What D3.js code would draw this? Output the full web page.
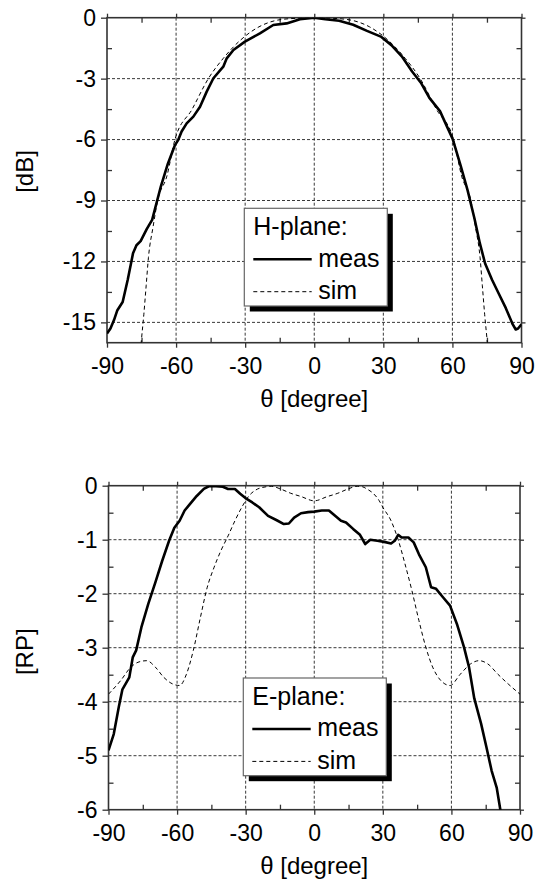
<!DOCTYPE html>
<html>
<head>
<meta charset="utf-8">
<script src="https://cdn.jsdelivr.net/npm/d3@7"></script>
<style>
  body { margin: 0; background: #fff; }
  svg text { font-family: "Liberation Sans", Arial, sans-serif; fill: #000; }
</style>
</head>
<body>
<div id="chart"></div>
<script>
// angle ticks shared by both panels
const xTicks = [-90, -60, -30, 0, 30, 60, 90];
const xMinor = [-75, -45, -15, 15, 45, 75];

// H-plane (top panel), dB
const hTicks = [0, -3, -6, -9, -12, -15];
const hMinor = [-1.5, -4.5, -7.5, -10.5, -13.5];
const hMeasTheta = [-90, -88.5, -87, -85.5, -83.2, -81, -78.7, -77.2, -75.4, -72.7, -70.4, -68.9, -66.6, -63.6, -60.6, -59, -57.6, -55.4, -52.5, -49.6, -46.7, -43.8, -39.5, -38, -35.1, -30.1, -23.6, -17.8, -12, -6.2, 0, 4.8, 10.8, 16.9, 22.9, 28.9, 33.5, 38, 42.5, 46.3, 50, 54.6, 57.6, 60.2, 63.6, 66.6, 69.6, 71.9, 74.2, 77.2, 80.2, 83.2, 86.2, 87.5, 88.5, 90];
const hMeas = [-15.55, -15.3, -14.9, -14.4, -14.0, -12.9, -11.6, -11.2, -11.0, -10.4, -9.95, -9.3, -8.3, -7.2, -6.3, -6.0, -5.6, -5.2, -4.87, -4.38, -3.64, -2.98, -2.41, -2.0, -1.59, -1.18, -0.77, -0.36, -0.28, -0.08, 0, -0.08, -0.15, -0.35, -0.65, -0.93, -1.35, -1.9, -2.65, -3.2, -3.95, -4.6, -5.35, -6.0, -7.3, -8.5, -9.9, -11.1, -12.1, -12.9, -13.6, -14.3, -15.1, -15.35, -15.3, -15.1];
const hSimTheta = [-76.5, -75, -74, -73, -72, -70, -68, -64, -60.5, -53, -46, -39.5, -32, -24, -16, -8, 0, 8, 16, 24, 32, 39.5, 46, 53, 60.5, 64, 68, 70, 72, 73, 74, 75, 76.5];
const hSim = [-17.8, -15.8, -14.6, -13.2, -11.8, -10.3, -9.0, -7.8, -6.0, -4.5, -3.0, -2.0, -1.1, -0.45, -0.12, -0.03, 0, -0.03, -0.12, -0.45, -1.1, -2.0, -3.0, -4.5, -6.0, -7.8, -9.0, -10.3, -11.8, -13.2, -14.6, -15.8, -17.8];

// E-plane (bottom panel), relative power
const eTicks = [0, -1, -2, -3, -4, -5, -6];
const eMinor = [-0.5, -1.5, -2.5, -3.5, -4.5, -5.5];
const eMeasTheta = [-90, -87.7, -85.5, -83.9, -80.9, -79.4, -77.9, -75.6, -72.6, -69.5, -66.5, -63.5, -61.2, -58.9, -56.7, -54.4, -51.4, -48.3, -46.1, -43, -40, -37.7, -34.7, -32.4, -30.1, -27.1, -24.1, -20.2, -16.4, -13.3, -11.1, -8.8, -5.8, -2.7, 0, 3.3, 6.4, 8.6, 11.7, 13.9, 17, 20, 22.3, 24.5, 27.6, 30.6, 33.6, 35.2, 36.7, 38.2, 41.2, 43.5, 45.8, 48.8, 51.1, 53.3, 56.4, 59.4, 62.4, 65.5, 67.7, 70, 73, 75.3, 77.6, 79.8, 81.4, 82.5];
const eMeas = [-4.9, -4.6, -4.1, -3.77, -3.55, -3.18, -3.05, -2.62, -2.19, -1.79, -1.39, -1.02, -0.78, -0.65, -0.46, -0.34, -0.19, -0.06, -0.01, -0.01, -0.02, -0.06, -0.06, -0.15, -0.23, -0.31, -0.4, -0.56, -0.64, -0.71, -0.7, -0.59, -0.51, -0.49, -0.48, -0.46, -0.46, -0.54, -0.65, -0.68, -0.8, -0.91, -1.08, -1.0, -1.02, -1.04, -1.07, -1.02, -0.91, -0.96, -0.96, -1.05, -1.27, -1.51, -1.88, -1.91, -2.07, -2.22, -2.56, -2.99, -3.36, -3.94, -4.41, -4.84, -5.28, -5.59, -6.0, -6.6];
const eSimTheta = [-90, -84.7, -80.2, -77.1, -73.3, -69.5, -65.8, -62, -58.9, -55.9, -52.9, -49.8, -46.8, -43.8, -40.8, -37.7, -34.7, -31.7, -28.6, -25.6, -21.1, -18.8, -14.8, -10.3, -5.8, 0, 5.8, 10.3, 14.8, 18.8, 21.1, 23, 26, 28.3, 30, 33.6, 36.7, 39.7, 42.7, 45.8, 48.8, 51.8, 54.8, 59.4, 63.9, 68.4, 72.1, 75.9, 80.3, 84.8, 90];
const eSim = [-3.86, -3.61, -3.36, -3.27, -3.24, -3.36, -3.55, -3.67, -3.7, -3.49, -3.05, -2.44, -1.88, -1.51, -1.2, -0.93, -0.65, -0.4, -0.19, -0.08, -0.02, -0.01, -0.06, -0.14, -0.2, -0.28, -0.2, -0.14, -0.06, -0.01, -0.02, -0.06, -0.15, -0.27, -0.4, -0.65, -1.0, -1.45, -1.94, -2.5, -2.99, -3.36, -3.58, -3.7, -3.49, -3.3, -3.24, -3.3, -3.49, -3.67, -3.86];

const width = 542, height = 881;
const font = "Liberation Sans, Arial, sans-serif";
const plainNum = d => String(d);   // hyphen-minus like the original, not U+2212

const svg = d3.select("#chart")
  .append("svg")
  .attr("width", width)
  .attr("height", height);

svg.append("rect").attr("width", width).attr("height", height).attr("fill", "#fff");

const zip = (xs, ys) => xs.map((x, i) => ({ x: x, y: ys[i] }));

function drawPanel(p) {
  const xScale = d3.scaleLinear().domain([-90, 90]).range([p.left, p.right]);
  const yScale = d3.scaleLinear().domain(p.yDomain).range([p.bottom, p.top]);

  const g = svg.append("g").attr("id", p.id);

  g.append("clipPath").attr("id", p.id + "-clip")
    .append("rect")
    .attr("x", p.left).attr("y", p.top)
    .attr("width", p.right - p.left).attr("height", p.bottom - p.top);

  // dashed grid
  const grid = g.append("g").attr("class", "grid")
    .attr("stroke", "#222").attr("stroke-width", 0.9).attr("stroke-dasharray", "3,2");
  grid.selectAll("line.vx")
    .data(xTicks.slice(1, -1)).join("line")
    .attr("class", "vx")
    .attr("x1", d => xScale(d)).attr("x2", d => xScale(d))
    .attr("y1", p.top).attr("y2", p.bottom);
  grid.selectAll("line.hy")
    .data(p.yTicks.filter(d => d !== p.yDomain[0] && d !== p.yDomain[1])).join("line")
    .attr("class", "hy")
    .attr("x1", p.left).attr("x2", p.right)
    .attr("y1", d => yScale(d)).attr("y2", d => yScale(d));

  // axes, major ticks out, minor ticks in
  const axisCol = "#333";
  g.append("g")
    .attr("transform", `translate(0,${p.bottom})`)
    .call(d3.axisBottom(xScale).tickValues(xTicks).tickSize(5).tickPadding(10).tickFormat(plainNum));
  g.append("g")
    .attr("transform", `translate(0,${p.bottom})`)
    .call(d3.axisBottom(xScale).tickValues(xMinor).tickSize(-5).tickFormat(""));
  g.append("g")
    .attr("transform", `translate(0,${p.top})`)
    .call(d3.axisTop(xScale).tickValues(xTicks).tickSize(4).tickFormat(""));
  g.append("g")
    .attr("transform", `translate(0,${p.top})`)
    .call(d3.axisTop(xScale).tickValues(xMinor).tickSize(-5).tickFormat(""));

  g.append("g")
    .attr("transform", `translate(${p.left},0)`)
    .call(d3.axisLeft(yScale).tickValues(p.yTicks).tickSize(6).tickPadding(5).tickFormat(plainNum));
  g.append("g")
    .attr("transform", `translate(${p.left},0)`)
    .call(d3.axisLeft(yScale).tickValues(p.yMinor).tickSize(-5).tickFormat(""));
  g.append("g")
    .attr("transform", `translate(${p.right},0)`)
    .call(d3.axisRight(yScale).tickValues(p.yTicks).tickSize(4).tickFormat(""));
  g.append("g")
    .attr("transform", `translate(${p.right},0)`)
    .call(d3.axisRight(yScale).tickValues(p.yMinor).tickSize(-5).tickFormat(""));

  g.selectAll(".domain").remove();
  g.selectAll(".tick line").attr("stroke", axisCol).attr("stroke-width", 1.3);
  g.selectAll(".tick text")
    .attr("fill", "#000")
    .style("font-family", font)
    .style("font-size", "23px");

  g.append("rect")
    .attr("x", p.left).attr("y", p.top)
    .attr("width", p.right - p.left).attr("height", p.bottom - p.top)
    .attr("fill", "none").attr("stroke", axisCol).attr("stroke-width", 1.6);

  // curves
  const line = d3.line().x(d => xScale(d.x)).y(d => yScale(d.y));
  const curves = g.append("g").attr("clip-path", `url(#${p.id}-clip)`);
  curves.append("path")
    .datum(zip(p.simTheta, p.sim))
    .attr("fill", "none")
    .attr("stroke", "#000")
    .attr("stroke-width", 1)
    .attr("stroke-dasharray", "4,3")
    .attr("d", line.curve(d3.curveMonotoneX));
  curves.append("path")
    .datum(zip(p.measTheta, p.meas))
    .attr("fill", "none")
    .attr("stroke", "#000")
    .attr("stroke-width", 2.6)
    .attr("stroke-linejoin", "round")
    .attr("d", line.curve(d3.curveLinear));

  // axis titles
  g.append("text")
    .attr("x", (p.left + p.right) / 2)
    .attr("y", p.bottom + 64.6)
    .attr("text-anchor", "middle")
    .style("font-size", "24px")
    .text("θ [degree]");
  g.append("text")
    .attr("transform", `translate(33,${p.yLabelY}) rotate(-90)`)
    .attr("text-anchor", "middle")
    .style("font-size", "24px")
    .text(p.yLabel);

  // legend with drop shadow
  const lg = g.append("g")
    .attr("transform", `translate(${p.left + p.legendX},${p.top + p.legendY})`);
  const bw = 143, bh = 97.7;
  lg.append("rect").attr("x", 5.5).attr("y", 5.5).attr("width", bw).attr("height", bh).attr("fill", "#000");
  lg.append("rect").attr("width", bw).attr("height", bh)
    .attr("fill", "#fff").attr("stroke", "#666").attr("stroke-width", 1.2);
  lg.append("text").attr("x", 9).attr("y", 26.7).style("font-size", "25px").text(p.legendTitle);
  lg.append("line").attr("x1", 9).attr("x2", 67.4).attr("y1", 51).attr("y2", 51)
    .attr("stroke", "#000").attr("stroke-width", 2.6);
  lg.append("text").attr("x", 74).attr("y", 58.4).style("font-size", "25px").text("meas");
  lg.append("line").attr("x1", 9).attr("x2", 67.4).attr("y1", 83.4).attr("y2", 83.4)
    .attr("stroke", "#000").attr("stroke-width", 1).attr("stroke-dasharray", "4,3");
  lg.append("text").attr("x", 74).attr("y", 91).style("font-size", "25px").text("sim");
}

drawPanel({
  id: "hplane",
  left: 107, right: 521.5, top: 17.7, bottom: 342.7,
  yDomain: [-16, 0], yTicks: hTicks, yMinor: hMinor,
  yLabel: "[dB]", yLabelY: 171.5,
  measTheta: hMeasTheta, meas: hMeas, simTheta: hSimTheta, sim: hSim,
  legendTitle: "H-plane:", legendX: 137.3, legendY: 190.6
});

drawPanel({
  id: "eplane",
  left: 108.5, right: 520, top: 485.7, bottom: 809.7,
  yDomain: [-6, 0], yTicks: eTicks, yMinor: eMinor,
  yLabel: "[RP]", yLabelY: 651.7,
  measTheta: eMeasTheta, meas: eMeas, simTheta: eSimTheta, sim: eSim,
  legendTitle: "E-plane:", legendX: 134.8, legendY: 192.3
});
</script>
</body>
</html>
